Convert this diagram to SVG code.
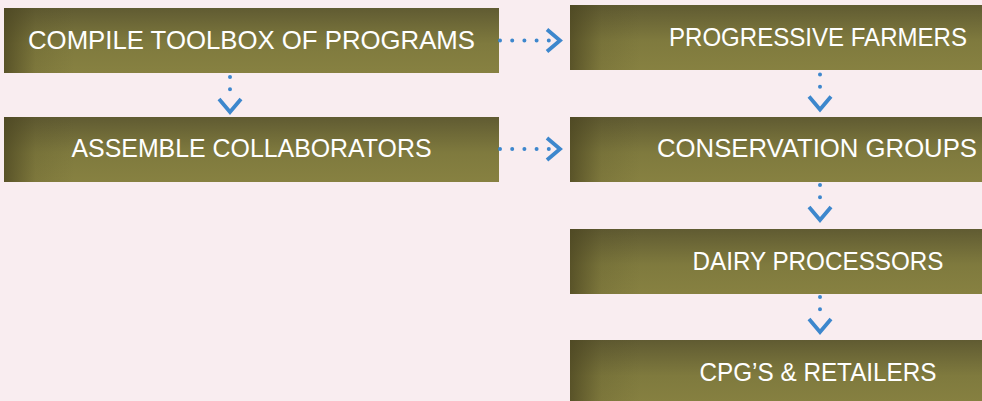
<svg xmlns="http://www.w3.org/2000/svg" width="982" height="401" viewBox="0 0 982 401">
  <defs>
    <linearGradient id="boxV" x1="0" y1="0" x2="0" y2="1">
      <stop offset="0" stop-color="#605b32"/>
      <stop offset="0.55" stop-color="#7f7a3e"/>
      <stop offset="1" stop-color="#878141"/>
    </linearGradient>
    <linearGradient id="boxH" x1="0" y1="0" x2="1" y2="0">
      <stop offset="0" stop-color="#4a4420" stop-opacity="0.75"/>
      <stop offset="0.45" stop-color="#4a4420" stop-opacity="0.15"/>
      <stop offset="1" stop-color="#4a4420" stop-opacity="0"/>
    </linearGradient>
    <marker id="chev" markerUnits="userSpaceOnUse" viewBox="-6 -15 22 30" markerWidth="22" markerHeight="30" refX="0" refY="0" orient="auto" overflow="visible">
      <path d="M -2 -11 L 11 0 L -2 11" fill="none" stroke="#3d87cd" stroke-width="3.8"/>
    </marker>
    <style>
      .box { fill: url(#boxV); }
      .shade { fill: url(#boxH); }
      .lbl { font-family: "Liberation Sans", Arial, sans-serif; font-size: 25px; fill: #ffffff; text-anchor: middle; }
      .conn { stroke: #3d87cd; stroke-width: 4; stroke-linecap: round; stroke-dasharray: 0 12.2; fill: none; marker-end: url(#chev); }
    </style>
  </defs>
  <rect x="0" y="0" width="982" height="401" fill="#f9edf0"/>

  <g id="compile">
    <rect class="box" x="4" y="8" width="495" height="65"/>
    <rect class="shade" x="4" y="8" width="70" height="65"/>
    <text class="lbl" x="251.5" y="49" textLength="447" lengthAdjust="spacingAndGlyphs">COMPILE TOOLBOX OF PROGRAMS</text>
  </g>
  <g id="assemble">
    <rect class="box" x="4" y="117" width="495" height="65"/>
    <rect class="shade" x="4" y="117" width="70" height="65"/>
    <text class="lbl" x="251.5" y="157" textLength="360" lengthAdjust="spacingAndGlyphs">ASSEMBLE COLLABORATORS</text>
  </g>
  <g id="farmers">
    <rect class="box" x="570" y="5" width="412" height="65"/>
    <rect class="shade" x="570" y="5" width="70" height="65"/>
    <text class="lbl" x="818" y="46" textLength="298" lengthAdjust="spacingAndGlyphs">PROGRESSIVE FARMERS</text>
  </g>
  <g id="conservation">
    <rect class="box" x="570" y="117" width="412" height="65"/>
    <rect class="shade" x="570" y="117" width="70" height="65"/>
    <text class="lbl" x="817" y="157" textLength="320" lengthAdjust="spacingAndGlyphs">CONSERVATION GROUPS</text>
  </g>
  <g id="dairy">
    <rect class="box" x="570" y="229" width="412" height="65"/>
    <rect class="shade" x="570" y="229" width="70" height="65"/>
    <text class="lbl" x="818" y="270" textLength="251" lengthAdjust="spacingAndGlyphs">DAIRY PROCESSORS</text>
  </g>
  <g id="retailers">
    <rect class="box" x="570" y="340" width="412" height="65"/>
    <rect class="shade" x="570" y="340" width="70" height="65"/>
    <text class="lbl" x="818" y="381" textLength="237" lengthAdjust="spacingAndGlyphs">CPG’S &amp; RETAILERS</text>
  </g>

  <g id="connectors">
    <line class="conn" x1="500" y1="40.5" x2="549" y2="40.5"/>
    <line class="conn" x1="500" y1="149" x2="549" y2="149"/>
    <line class="conn" x1="230" y1="77" x2="230" y2="101"/>
    <line class="conn" x1="820" y1="74.5" x2="820" y2="98.5"/>
    <line class="conn" x1="820" y1="185" x2="820" y2="209"/>
    <line class="conn" x1="820" y1="297" x2="820" y2="321"/>
  </g>
</svg>
